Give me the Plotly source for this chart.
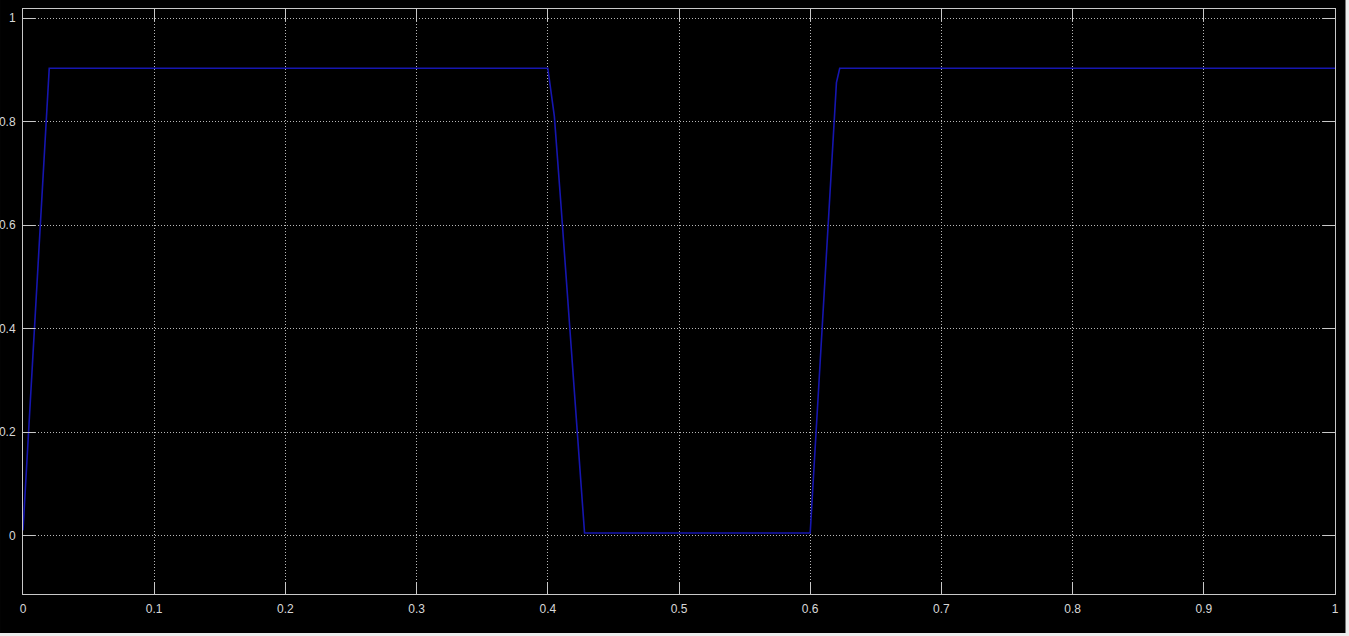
import plotly.graph_objects as go

# time (s) and signal values
t = [0.0, 0.005, 0.01, 0.015, 0.0175, 0.02, 0.4, 0.4025, 0.405, 0.41, 0.415,
     0.42, 0.425, 0.428, 0.6, 0.605, 0.61, 0.615, 0.618, 0.62, 0.6225, 1.0]
y = [0.01, 0.23, 0.45, 0.68, 0.80, 0.903, 0.903, 0.86, 0.81, 0.64, 0.46,
     0.28, 0.10, 0.005, 0.005, 0.22, 0.44, 0.66, 0.79, 0.875, 0.903, 0.903]

x_ticks = [0, 0.1, 0.2, 0.3, 0.4, 0.5, 0.6, 0.7, 0.8, 0.9, 1]
x_labels = ["0", "0.1", "0.2", "0.3", "0.4", "0.5", "0.6", "0.7", "0.8", "0.9", "1"]
y_ticks = [0, 0.2, 0.4, 0.6, 0.8, 1]
y_labels = ["0", "0.2", "0.4", "0.6", "0.8", "1"]

W, H = 1349, 636
L, R, T, B = 23, 13.5, 9, 42
pw = W - L - R
ph = H - T - B

fig = go.Figure()
fig.add_trace(go.Scatter(x=t, y=y, mode="lines",
                         line=dict(color="#1616b0", width=1.6),
                         showlegend=False, hoverinfo="skip"))

axis_common = dict(
    automargin=False,
    showline=True, linecolor="#c8c8c8", linewidth=1, mirror="allticks",
    ticks="inside", ticklen=12, tickcolor="#c8c8c8", tickwidth=1,
    showgrid=True, gridcolor="#b8b8b8", griddash="1px,2px", gridwidth=1,
    zeroline=False, tickfont=dict(family="Liberation Sans, Arial, sans-serif",
                                  size=12, color="#d8d8d8"),
)

fig.update_xaxes(range=[0, 1], tickvals=x_ticks, ticktext=x_labels,
                 ticklabelstandoff=4, **axis_common)
fig.update_yaxes(range=[-0.113, 1.0174], tickvals=y_ticks, ticktext=y_labels,
                 ticklabelstandoff=4, **axis_common)

# black window area with light frame strip on right/bottom
fig.add_shape(type="rect", xref="paper", yref="paper", layer="below",
              x0=-L / pw, x1=(1346 - L) / pw,
              y0=(ph + T - 633) / ph, y1=(ph + T) / ph,
              fillcolor="#000000", line=dict(width=0))

fig.update_layout(
    width=W, height=H,
    margin=dict(l=L, r=R, t=T, b=B, pad=0),
    paper_bgcolor="#ececec", plot_bgcolor="#000000",
)

fig.write_html(
    "out.html",
    config={"displayModeBar": False},
    post_script="document.body.style.margin='0';document.body.style.overflow='hidden';",
)
